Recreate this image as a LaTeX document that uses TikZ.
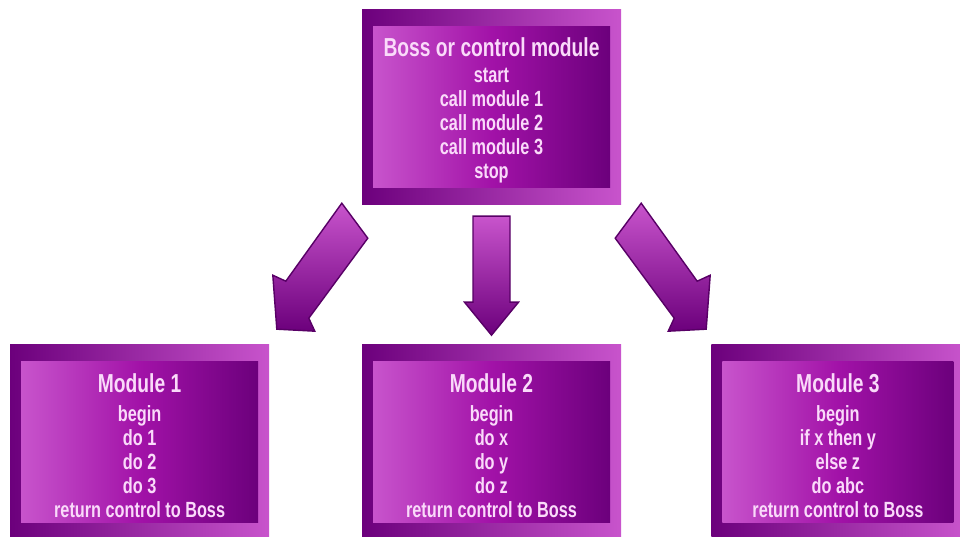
\documentclass[tikz,border=0pt]{standalone}
\usepackage{fontspec}
\newfontfamily\boxfont{Liberation Sans}[FakeStretch=0.74]
\usetikzlibrary{positioning, calc}
\definecolor{pdark}{RGB}{108,0,124}
\definecolor{pmid}{RGB}{162,18,168}
\definecolor{plight}{RGB}{200,84,204}
\definecolor{ptext}{RGB}{250,218,250}
\definecolor{pline}{RGB}{88,0,102}
\newcommand{\headsize}{\fontsize{26}{24}\selectfont}
\tikzset{%
  % Specifications for style of nodes:
        frame/.style = {rectangle, inner sep=0pt,
                           minimum width=259pt, minimum height=195pt,
                           left color=pdark, right color=plight},
        panel/.style = {rectangle, inner sep=0pt,
                           minimum width=237pt, minimum height=161pt,
                           left color=plight, right color=pdark, middle color=pmid},
        listing/.style = {inner sep=0pt, text=ptext,
                           font={\boxfont\bfseries\fontsize{22}{24}\selectfont}},
        arrowbody/.style = {draw=pline, line width=1.4pt, line join=miter,
                           top color=plight, bottom color=pdark},
  % Block arrows
        downarrow/.pic = {
          \shadedraw[arrowbody] (-18.5,0) -- (18.5,0) -- (18.5,-86) -- (27,-86)
             -- (0,-119) -- (-27,-86) -- (-18.5,-86) -- cycle;
        },
        slantarrow/.pic = {
          \shadedraw[arrowbody] (0,0) -- (26,-35) -- (-33,-115) -- (-27,-128)
             -- (-65,-126) -- (-69,-72) -- (-56,-78) -- cycle;
        }
}
\newcommand{\bosstext}{
    \begin{tabular}{c}
        {\headsize Boss or control module}\\[2pt]
        start\\
        call module 1\\
        call module 2\\
        call module 3\\
        stop\\
    \end{tabular}
}
\newcommand{\modone}{
    \begin{tabular}{c}
        {\headsize Module 1}\\[5pt]
        begin\\
        do 1\\
        do 2\\
        do 3\\
        return control to Boss\\
    \end{tabular}
}
\newcommand{\modtwo}{
    \begin{tabular}{c}
        {\headsize Module 2}\\[5pt]
        begin\\
        do x\\
        do y\\
        do z\\
        return control to Boss\\
    \end{tabular}
}
\newcommand{\modthree}{
    \begin{tabular}{c}
        {\headsize Module 3}\\[5pt]
        begin\\
        if x then y\\
        else z\\
        do abc\\
        return control to Boss\\
    \end{tabular}
}
\begin{document}
\begin{tikzpicture}[x=1pt, y=1pt]
  \useasboundingbox (0,0) rectangle (960,537);
  % Specification of nodes (position, etc.)
    \node (boss)       [frame] at (491.5,429.5) {};
    \node (mod2)       [frame, below=139pt of boss] {};
    \node (mod1)       [frame, left=92.5pt of mod2] {};
    \node (mod3)       [frame, minimum width=253pt, right=90pt of mod2] {};
    \node (bossPanel)  [panel] at (boss) {};
    \node (mod1Panel)  [panel] at (mod1) {};
    \node (mod2Panel)  [panel] at (mod2) {};
    \node (mod3Panel)  [panel, minimum width=231pt] at (mod3) {};
  % Texts of the panels
    \node (bossText)   [listing] at ([yshift=-4pt]bossPanel.center) {\bosstext};
    \node (mod1Text)   [listing] at ([yshift=-7pt]mod1Panel.center) {\modone};
    \node (mod2Text)   [listing] at ([yshift=-7pt]mod2Panel.center) {\modtwo};
    \node (mod3Text)   [listing] at ([yshift=-7pt]mod3Panel.center) {\modthree};

  % Specification of arrows between nodes specified above
    \pic (arrowMid)   at ($(boss.south)+(0,-11)$) {downarrow};
    \pic (arrowLeft)  at ($(boss.south west)+(-20,2)$) {slantarrow};
    \pic[xscale=-1] (arrowRight) at ($(boss.south east)+(20,2)$) {slantarrow};
\end{tikzpicture}
\end{document}
